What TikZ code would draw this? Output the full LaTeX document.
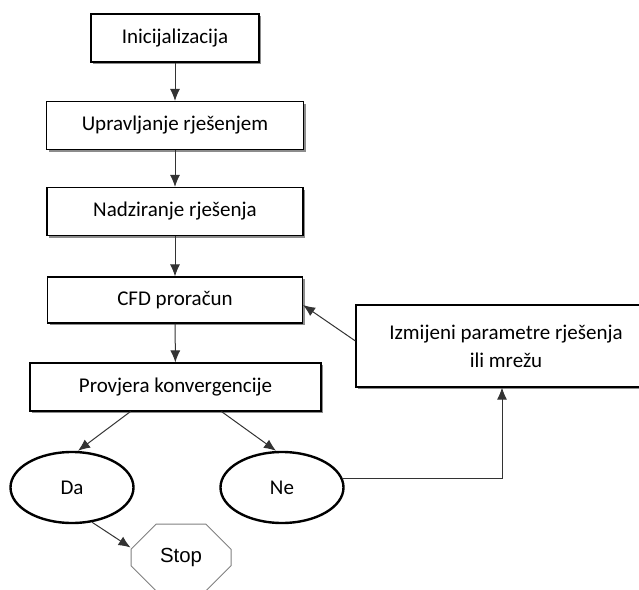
\documentclass[tikz,border=0pt]{standalone}
\usepackage{fontspec}
\setmainfont{Carlito}
\newfontfamily\stopfont{Liberation Sans}
\usetikzlibrary{arrows.meta,shapes.geometric,shapes.misc,shadows}

\tikzset{
  korak/.style={draw=black, line width=0.55pt, fill=white, inner sep=0pt,
    drop shadow={shadow xshift=1pt, shadow yshift=-1pt, fill=black!45, opacity=1},
    minimum height=24pt, align=center, font=\fontsize{10.5}{14}\selectfont},
  odluka/.style={ellipse, draw=black, line width=1.2pt, inner sep=0pt,
    minimum width=61.5pt, minimum height=35.5pt, font=\fontsize{10.5}{14}\selectfont},
  kraj/.style={chamfered rectangle, chamfered rectangle xsep=10pt, chamfered rectangle ysep=8pt,
    draw=black!50, line width=0.5pt, inner sep=0pt, minimum width=50pt, minimum height=33.5pt,
    font=\stopfont\fontsize{10.2}{12}\selectfont},
  veza/.style={draw=black!80, line width=0.5pt, -{Latex[length=6pt,width=5pt]}}
}

\begin{document}
\begin{tikzpicture}[x=0.5pt, y=-0.5pt]
        \clip (0,0) rectangle (639,590);

        % koraci
        \node[korak, minimum width=84pt] (init) at (175,38) {Inicijalizacija};
        \node[korak, minimum width=128.5pt] (upr) at (175,125.5) {Upravljanje rješenjem};
        \node[korak, minimum width=128pt] (nadz) at (175,211.5) {Nadziranje rješenja};
        \node[korak, minimum width=127.5pt, minimum height=23pt] (cfd) at (175,300) {CFD proračun};
        \node[korak, minimum width=145.5pt] (prov) at (175.5,387) {Provjera konvergencije};
        \node[korak, minimum width=150pt, minimum height=41pt] (izm) at (506,346) {Izmijeni parametre rješenja\\ili mrežu};

        % odluke
        \node[odluka] (da) at (72,487.5) {Da};
        \node[odluka] (ne) at (282,487.5) {Ne};
        \node[kraj] (stop) at (181,557.5) {Stop};

        % veze
        \draw[veza] (init) -- (upr);
        \draw[veza] (upr) -- (nadz);
        \draw[veza] (nadz) -- (cfd);
        \draw[veza] (cfd) -- (prov);
        \draw[veza] ([xshift=-22.5pt]prov.south) -- ([xshift=3pt]da.north);
        \draw[veza] ([xshift=23pt]prov.south) -- ([xshift=-3pt]ne.north);
        \draw[veza] (da.-60) -- ([yshift=5pt]stop.west);
        \draw[veza] (ne.8) -| ([xshift=-2pt]izm.south);
        \draw[veza] ([yshift=2.5pt]izm.west) -- ([yshift=-2.5pt]cfd.east);
    \end{tikzpicture}
\end{document}
